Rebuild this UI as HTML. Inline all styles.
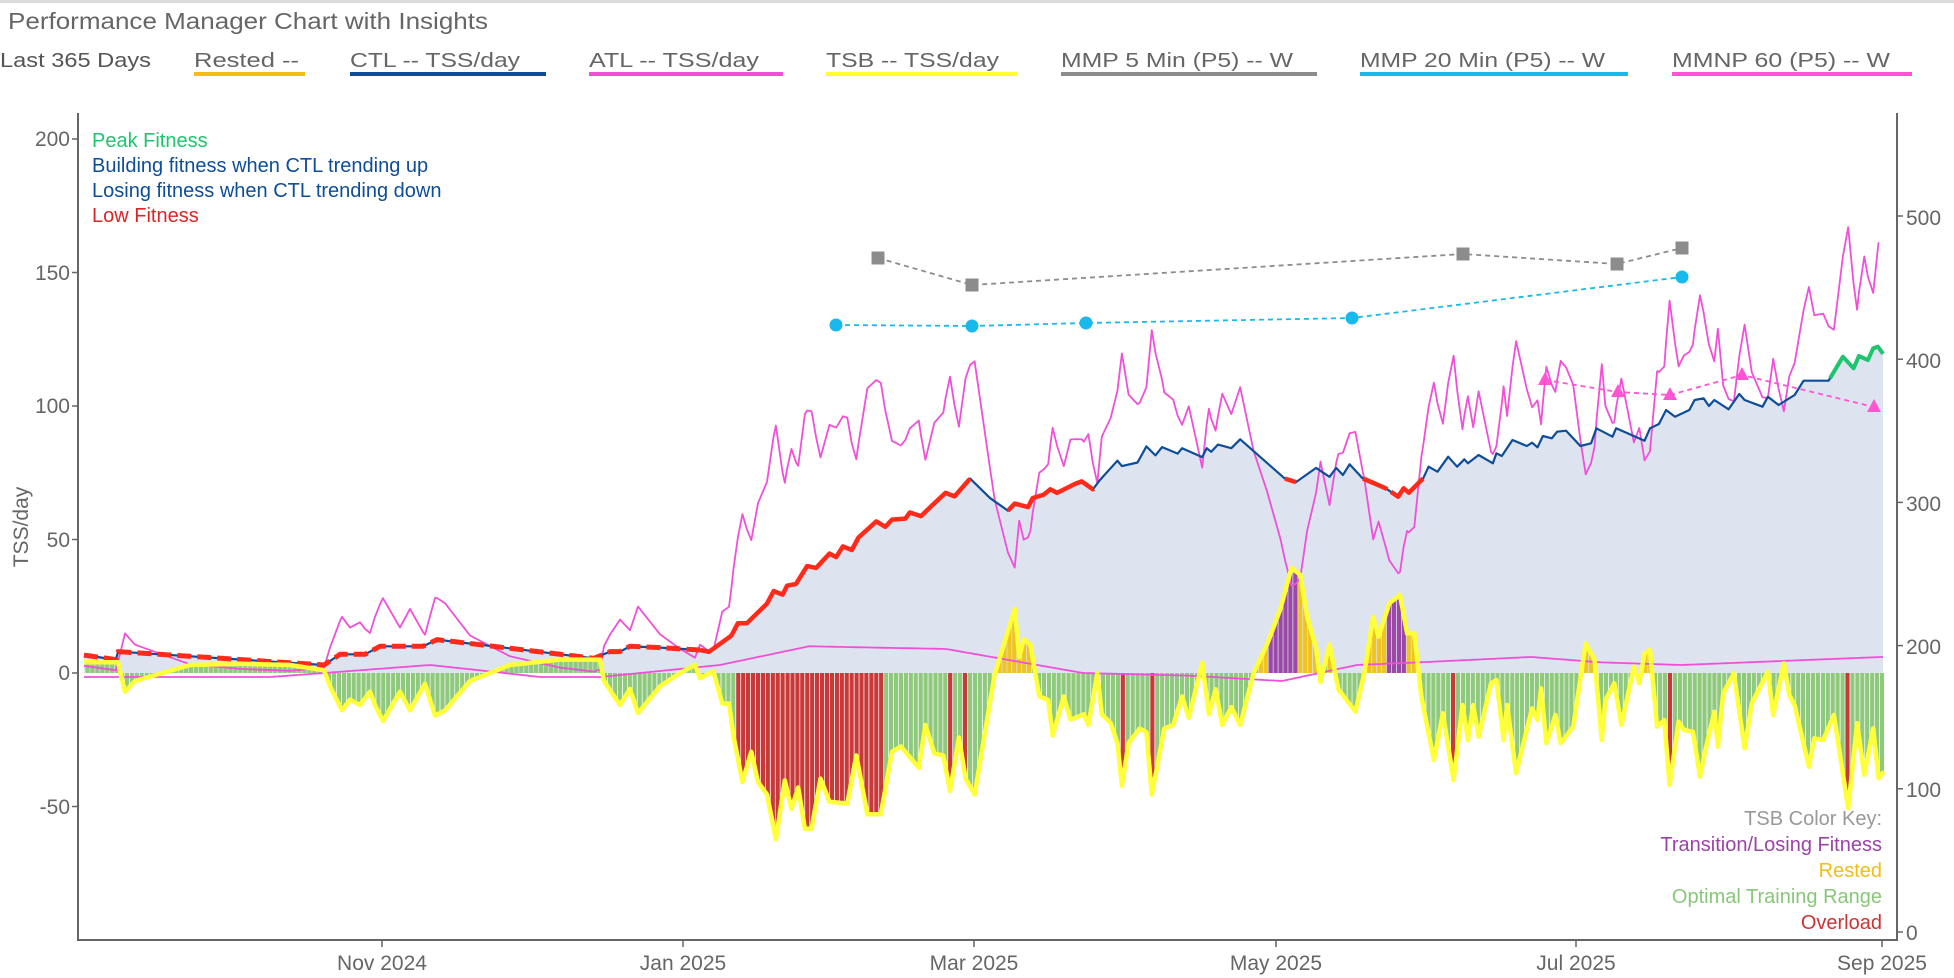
<!DOCTYPE html>
<html><head><meta charset="utf-8"><style>
html,body{margin:0;padding:0;background:#fff;}
svg{display:block;font-family:"Liberation Sans",Arial,sans-serif;}
</style></head><body>
<svg id="s" width="1954" height="978" viewBox="0 0 1954 978" xmlns="http://www.w3.org/2000/svg">
<rect x="0" y="0" width="1954" height="978" fill="#fff"/>
<rect x="0" y="0" width="1954" height="3" fill="#dcdcdc"/>
<text x="8" y="29" font-size="23" fill="#666" textLength="480" lengthAdjust="spacingAndGlyphs">Performance Manager Chart with Insights</text>
<g font-size="20" fill="#555">
<text x="0" y="67" textLength="151" lengthAdjust="spacingAndGlyphs">Last 365 Days</text>
<text x="194" y="67" fill="#666" textLength="105" lengthAdjust="spacingAndGlyphs">Rested  --</text>
<rect x="194" y="72" width="111" height="4" fill="#f2bd16"/>
<text x="350" y="67" fill="#666" textLength="170" lengthAdjust="spacingAndGlyphs">CTL  -- TSS/day</text>
<rect x="350" y="72" width="196" height="4" fill="#0d4d99"/>
<text x="589" y="67" fill="#666" textLength="170" lengthAdjust="spacingAndGlyphs">ATL  -- TSS/day</text>
<rect x="589" y="72" width="194" height="4" fill="#f050d8"/>
<text x="826" y="67" fill="#666" textLength="173" lengthAdjust="spacingAndGlyphs">TSB  -- TSS/day</text>
<rect x="826" y="72" width="192" height="4" fill="#ffff33"/>
<text x="1061" y="67" fill="#666" textLength="232" lengthAdjust="spacingAndGlyphs">MMP 5 Min (P5)  -- W</text>
<rect x="1061" y="72" width="256" height="4" fill="#8c8c8c"/>
<text x="1360" y="67" fill="#666" textLength="245" lengthAdjust="spacingAndGlyphs">MMP 20 Min (P5)  -- W</text>
<rect x="1360" y="72" width="268" height="4" fill="#19b9ec"/>
<text x="1672" y="67" fill="#666" textLength="218" lengthAdjust="spacingAndGlyphs">MMNP 60 (P5)  -- W</text>
<rect x="1672" y="72" width="240" height="4" fill="#ff55d4"/>
</g>
<g id="plot"></g>
<!-- axes -->
<g stroke="#666" stroke-width="2" fill="none">
<line x1="78" y1="113" x2="78" y2="941"/>
<line x1="77" y1="940" x2="1898" y2="940"/>
<line x1="1897" y1="113" x2="1897" y2="941"/>
</g>
<g id="ticks" stroke="#666" stroke-width="1.5"></g>
<g font-size="21" fill="#666" text-anchor="end">
<text x="70" y="146">200</text>
<text x="70" y="280">150</text>
<text x="70" y="413">100</text>
<text x="70" y="547">50</text>
<text x="70" y="680">0</text>
<text x="70" y="814">-50</text>
</g>
<g font-size="21" fill="#666" text-anchor="start">
<text x="1906" y="225">500</text>
<text x="1906" y="368">400</text>
<text x="1906" y="511">300</text>
<text x="1906" y="654">200</text>
<text x="1906" y="797">100</text>
<text x="1906" y="940">0</text>
</g>
<g font-size="21" fill="#666" text-anchor="middle">
<text x="382" y="970">Nov 2024</text>
<text x="683" y="970">Jan 2025</text>
<text x="974" y="970">Mar 2025</text>
<text x="1276" y="970">May 2025</text>
<text x="1576" y="970">Jul 2025</text>
<text x="1882" y="970">Sep 2025</text>
</g>
<text transform="translate(28,527) rotate(-90)" font-size="21" fill="#666" text-anchor="middle">TSS/day</text>
<g font-size="20">
<text x="92" y="147" fill="#1ec46e">Peak Fitness</text>
<text x="92" y="172" fill="#0d4d99">Building fitness when CTL trending up</text>
<text x="92" y="197" fill="#0d4d99">Losing fitness when CTL trending down</text>
<text x="92" y="222" fill="#dd2424">Low Fitness</text>
</g>
<g font-size="20" text-anchor="end">
<text x="1882" y="825" fill="#999">TSB Color Key:</text>
<text x="1882" y="851" fill="#9b44a8">Transition/Losing Fitness</text>
<text x="1882" y="877" fill="#f2bd16">Rested</text>
<text x="1882" y="903" fill="#88c77a">Optimal Training Range</text>
<text x="1882" y="929" fill="#cc3333">Overload</text>
</g>
</svg>
<script>
(function(){
var NS="http://www.w3.org/2000/svg";
function el(p,t,a){var e=document.createElementNS(NS,t);for(var k in a)e.setAttribute(k,a[k]);p.appendChild(e);return e;}
function Y(v){return 673-v*2.67;}
function YR(v){return 932-v*1.432;}
function X(d){return 87.5+d*4.93;}
function interp(p,x){if(x<=p[0][0])return p[0][1];for(var i=1;i<p.length;i++){if(x<=p[i][0]){var a=p[i-1],b=p[i];return a[1]+(b[1]-a[1])*(x-a[0])/(b[0]-a[0]);}}return p[p.length-1][1];}
function conv7(l){return l.map(function(q){return [700+q[0]/2.24,(373-q[1]/2.8)/2.67];});}
function conv8(l){return l.map(function(q){return [1350+q[0]/2.8,(373-q[1]/3)/2.67];});}
var ctlEarly=[[84,6.7],[116,5],[118,8],[324,3],[340,7],[365,7],[380,10],[423,10],[437,12.5],[594,5.5],[610,8],[620,8],[630,10],[660,9.5],[700,8.6]];
var ctl7=conv7([[20,985],[70,940],[85,905],[105,905],[150,850],[165,815],[185,825],[195,800],[215,795],[240,745],[260,750],[290,710],[305,720],[320,690],[340,700],[355,665],[395,620],[415,635],[430,615],[460,612],[470,595],[495,605],[520,575],[550,540],[570,550],[605,500],[650,555],[690,590],[705,570],[735,580],[745,555],[770,545],[785,530],[800,540],[840,515],[855,508],[880,530],[895,505],[935,450],[945,465],[980,455],[1000,410],[1020,435],[1035,412],[1070,430],[1080,415],[1125,440],[1135,415],[1145,425],[1160,405],[1190,415],[1210,390],[1310,500],[1335,510],[1380,470],[1410,495],[1425,470],[1440,490],[1455,460]]);
var ctl8=conv8([[35,535],[100,565],[135,590],[150,565],[165,578],[205,535],[220,500],[245,515],[275,470],[300,500],[320,478],[330,490],[360,465],[400,490],[410,460],[425,468],[455,420],[495,438],[510,428],[525,442],[540,408],[565,415],[580,395],[605,392],[645,438],[675,430],[690,385],[735,410],[745,385],[825,422],[840,385],[865,372],[885,330],[910,350],[950,330],[965,300],[990,295],[1005,318],[1020,300],[1060,328],[1090,282],[1105,300],[1155,320],[1170,290],[1200,315],[1245,285],[1270,242],[1340,242],[1380,170],[1410,205],[1425,168],[1450,180],[1465,145],[1478,140],[1495,165]]);
var CTL=ctlEarly.concat(ctl7,ctl8);
var tsbEarly=[[84,4],[118,4],[125,-7],[135,-3],[190,3],[240,3.5],[290,3],[324,1],[330,-5],[342,-14],[350,-10],[360,-12],[370,-7],[375,-12],[383,-18],[400,-7],[410,-14],[425,-4],[435,-16],[445,-14],[470,-3],[490,0],[510,3],[560,5],[600,5],[604,-3],[620,-12],[630,-6],[638,-15],[660,-5],[680,0],[695,3],[700,-2]];
var tsb7=conv7([[30,1040],[50,1130],[65,1130],[75,1220],[95,1350],[115,1265],[130,1350],[150,1385],[170,1510],[190,1345],[205,1425],[220,1365],[235,1480],[250,1480],[270,1340],[290,1405],[330,1410],[350,1275],[375,1440],[405,1440],[430,1265],[450,1250],[490,1310],[505,1190],[525,1270],[545,1275],[560,1375],[580,1225],[595,1340],[615,1385],[660,1050],[705,865],[715,1000],[725,950],[740,965],[760,1110],[780,1120],[790,1220],[815,1110],[830,1175],[860,1160],[870,1190],[890,1045],[900,1160],[920,1185],[935,1240],[945,1360],[960,1240],[985,1200],[1000,1210],[1012,1385],[1040,1200],[1060,1190],[1080,1110],[1095,1170],[1125,1015],[1140,1160],[1155,1090],[1170,1190],[1190,1140],[1210,1190],[1240,1045],[1270,965],[1300,865],[1325,750],[1345,770],[1360,885],[1380,975],[1390,1070],[1410,965],[1430,1090],[1450,1000]]);
var tsb8=conv8([[15,1235],[40,1120],[65,950],[80,1010],[110,910],[140,885],[160,1000],[180,1000],[200,1190],[235,1380],[260,1240],[290,1440],[315,1215],[330,1320],[345,1215],[360,1310],[395,1150],[410,1140],[430,1320],[440,1215],[465,1420],[510,1225],[525,1260],[535,1165],[550,1330],[575,1245],[590,1330],[625,1280],[660,1030],[685,1080],[705,1320],[715,1200],[740,1150],[760,1275],[795,1100],[810,1150],[825,1060],[840,1050],[860,1280],[880,1260],[895,1455],[920,1265],[935,1290],[960,1295],[980,1430],[995,1350],[1020,1235],[1030,1340],[1045,1180],[1075,1120],[1105,1345],[1125,1210],[1170,1115],[1185,1245],[1215,1090],[1230,1185],[1245,1215],[1285,1400],[1300,1315],[1325,1320],[1355,1245],[1395,1525],[1420,1270],[1440,1425],[1465,1285],[1480,1435],[1495,1415]]);
var TSB=tsbEarly.concat(tsb7.filter(function(p){return p[0]<1340;}),tsb8);
var RAMP=[[84,-1.5],[270,-1.5],[324,0],[430,3],[480,1],[540,-1.5],[600,-1.5],[640,0],[720,3],[809,10],[946,9],[1083,0],[1190,-1],[1282,-3],[1357,3],[1420,4],[1531,6],[1600,4],[1681,3],[1883,6]];
var g=document.getElementById("plot");
var x0=84,x1=1883;
// points at fine resolution
var xs=[];for(var x=x0;x<=x1;x+=2.5)xs.push(x);xs.push(x1);
// CTL fill
var d="M"+x0+","+Y(0);xs.forEach(function(x){d+=" L"+x.toFixed(1)+","+Y(interp(CTL,x)).toFixed(1);});d+=" L"+x1+","+Y(0)+" Z";
el(g,"path",{d:d,fill:"#dde3ef"});
// bars
var spec=[950,963,1122,1152,1454,1670,1848];
for(var k=0;k<=364;k++){var x=X(k);if(x>x1)break;var t=interp(TSB,x);var c="#8fc97e";
 if(t>0){ if(t>5){c="#f0c420"; if((x>=1268&&x<=1300)||(x>=1388&&x<=1408))c="#9b48a6";} }
 else { if(x>=735&&x<=885&&t<-28)c="#c83a3a"; spec.forEach(function(s){if(Math.abs(x-s)<2.6)c="#c83a3a";}); }
 var ya=Y(0),yb=Y(t);el(g,"rect",{x:(x-2.1).toFixed(1),y:Math.min(ya,yb).toFixed(1),width:4.2,height:Math.abs(yb-ya).toFixed(1),fill:c});}
function line(pts,attrs){var s="";pts.forEach(function(p,i){s+=(i?" L":"M")+p[0].toFixed(1)+","+p[1].toFixed(1);});attrs.d=s;attrs.fill="none";return el(g,"path",attrs);}
// ramp line
line(xs.map(function(x){return [x,Y(interp(RAMP,x))];}),{stroke:"#f050d8","stroke-width":1.8});
// ATL = CTL - TSB
var kp={};CTL.concat(TSB).forEach(function(p){kp[p[0].toFixed(1)]=p[0];});
var ax=Object.keys(kp).map(function(k){return kp[k];}).sort(function(a,b){return a-b;}).filter(function(x){return x>=x0&&x<=x1;});
line(ax.map(function(x){return [x,Y(interp(CTL,x)-interp(TSB,x))];}),{stroke:"#f050d8","stroke-width":1.8,"stroke-linejoin":"round"});
// CTL blue
var cx=CTL.map(function(p){return p[0];}).filter(function(x){return x>=x0&&x<=x1;});
function seg(a,b){var s=[[a,Y(interp(CTL,a))]];cx.forEach(function(x){if(x>a&&x<b)s.push([x,Y(interp(CTL,x))]);});s.push([b,Y(interp(CTL,b))]);return s;}
line(seg(x0,x1),{stroke:"#0d4d99","stroke-width":2.2,"stroke-linejoin":"round"});
line(seg(84,700),{stroke:"#ff2a1a","stroke-width":5,"stroke-dasharray":"14 6","stroke-linejoin":"round"});
[[700,970],[1008,1093],[1285,1296],[1363,1387],[1391,1423]].forEach(function(r){line(seg(r[0],r[1]),{stroke:"#ff2a1a","stroke-width":4.5,"stroke-linejoin":"round"});});
line(seg(1830,1883),{stroke:"#1ec46e","stroke-width":4,"stroke-linejoin":"round"});
// TSB yellow
var tx=TSB.map(function(p){return p[0];});
line(tx.map(function(x){return [x,Y(interp(TSB,x))];}),{stroke:"#ffff3a","stroke-width":4.5,"stroke-linejoin":"round"});
// MMP series
var gray=[[878,258],[972,285],[1463,254],[1617,264],[1682,248]];
line(gray,{stroke:"#8c8c8c","stroke-width":1.8,"stroke-dasharray":"5 4"});
gray.forEach(function(p){el(g,"rect",{x:p[0]-6.5,y:p[1]-6.5,width:13,height:13,fill:"#8c8c8c"});});
var cyan=[[836,325],[972,326],[1086,323],[1352,318],[1682,277]];
line(cyan,{stroke:"#19b9ec","stroke-width":1.8,"stroke-dasharray":"5 4"});
cyan.forEach(function(p){el(g,"circle",{cx:p[0],cy:p[1],r:6.5,fill:"#19b9ec"});});
var tri=[[1545,380],[1618,392],[1670,395],[1742,375],[1874,407]];
line(tri,{stroke:"#ff55d4","stroke-width":1.8,"stroke-dasharray":"5 4"});
tri.forEach(function(p){el(g,"path",{d:"M"+p[0]+","+(p[1]-8)+" L"+(p[0]+7)+","+(p[1]+5)+" L"+(p[0]-7)+","+(p[1]+5)+" Z",fill:"#ff55d4"});});
// ticks
var tk=document.getElementById("ticks");
[200,150,100,50,0,-50].forEach(function(v){el(tk,"line",{x1:72,x2:78,y1:Y(v),y2:Y(v)});});
[0,100,200,300,400,500].forEach(function(v){el(tk,"line",{x1:1897,x2:1903,y1:YR(v),y2:YR(v)});});
[382,683,974,1276,1576,1882].forEach(function(x){el(tk,"line",{x1:x,x2:x,y1:940,y2:947});});
})();
</script>
</body></html>
